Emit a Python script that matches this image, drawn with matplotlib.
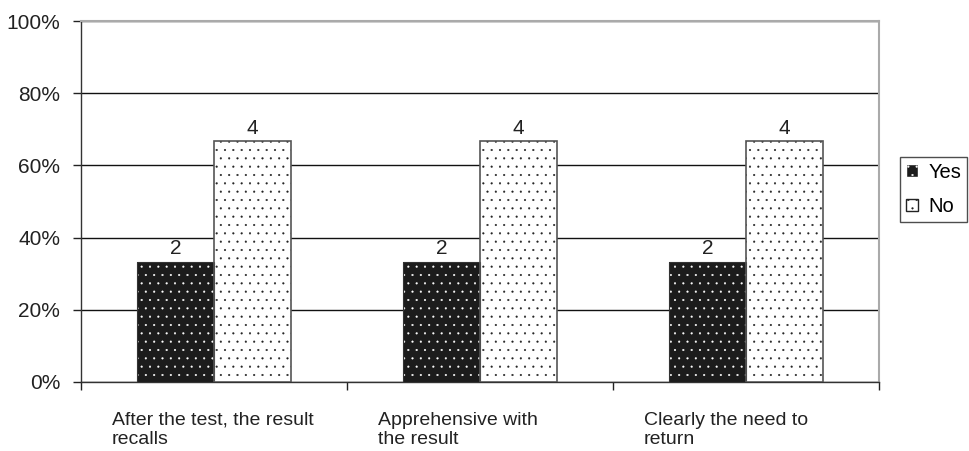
import numpy as np
import matplotlib.pyplot as plt
from matplotlib.patches import Patch
from matplotlib.transforms import blended_transform_factory

plt.rcParams['font.family'] = ['Liberation Sans', 'DejaVu Sans']
plt.rcParams['hatch.linewidth'] = 0.3

# ── data: answer counts per question ───────────────────────
questions = ["After the test, the result\nrecalls",
             "Apprehensive with\nthe result",
             "Clearly the need to\nreturn"]
yes_counts = [2, 2, 2]
no_counts = [4, 4, 4]
series = ["Yes", "No"]

yes = np.array(yes_counts, dtype=float)
no = np.array(no_counts, dtype=float)
total = yes + no
yes_pct = yes / total * 100
no_pct = no / total * 100

fig = plt.figure(figsize=(9.7, 4.51), dpi=100)
ax = fig.add_axes([0.0835, 0.153, 0.8225, 0.8004])

x = np.arange(len(questions))
w = 0.29

# dotted fills: first pass draws fill + dots, second pass draws the outline
ax.bar(x - w / 2, yes_pct, w, color="#1c1c1c", edgecolor="white", hatch="..",
       linewidth=0, zorder=3)
ax.bar(x - w / 2, yes_pct, w, fill=False, edgecolor="#333333", linewidth=0.8, zorder=4)
ax.bar(x + w / 2, no_pct, w, color="white", edgecolor="#222222", hatch="..",
       linewidth=0, zorder=3)
ax.bar(x + w / 2, no_pct, w, fill=False, edgecolor="#555555", linewidth=1.2, zorder=4)

for xi, p, c in zip(x - w / 2, yes_pct, yes_counts):
    ax.text(xi, p + 0.9, str(c), ha="center", va="bottom", fontsize=15, color="#222222")
for xi, p, c in zip(x + w / 2, no_pct, no_counts):
    ax.text(xi, p + 0.9, str(c), ha="center", va="bottom", fontsize=15, color="#222222")

ax.set_xlim(-0.5, len(questions) - 0.5)
ax.set_ylim(0, 100)
ax.set_yticks(np.arange(0, 101, 20))
ax.set_yticklabels([f"{v}%" for v in range(0, 101, 20)], fontsize=15, color="#222222")
ax.yaxis.grid(True, color="#111111", linewidth=1.0, zorder=0)
ax.set_axisbelow(True)

# ticks at the boundaries between categories
ax.set_xticks(np.arange(-0.5, len(questions), 1.0))
ax.set_xticklabels([])
ax.tick_params(axis="x", direction="out", length=6, width=1, color="#222222")
ax.tick_params(axis="y", direction="out", length=6, width=1, color="#222222", pad=9)

trans = blended_transform_factory(ax.transData, ax.transAxes)
for i, q in enumerate(questions):
    ax.text(i - 0.383, -0.082, q, transform=trans, ha="left", va="top",
            fontsize=14, color="#222222", linespacing=1.15)

for s in ["left", "bottom"]:
    ax.spines[s].set_color("#333333")
    ax.spines[s].set_linewidth(1.0)
for s in ["top", "right"]:
    ax.spines[s].set_color("#aaaaaa")
    ax.spines[s].set_linewidth(1.5)

handles = [Patch(facecolor="#1c1c1c", edgecolor="white", hatch="..", label=series[0]),
           Patch(facecolor="white", edgecolor="#222222", hatch="..", label=series[1])]
leg = fig.legend(handles=handles, loc="upper left", bbox_to_anchor=(0.928, 0.652),
                 fontsize=14.5, frameon=True, fancybox=False, handlelength=0.6,
                 handleheight=0.6, handletextpad=0.5, borderpad=0.3, labelspacing=0.75,
                 borderaxespad=0)
leg.get_frame().set_edgecolor("#222222")
leg.get_frame().set_linewidth(1.0)

fig.savefig("out.png", dpi=100)
